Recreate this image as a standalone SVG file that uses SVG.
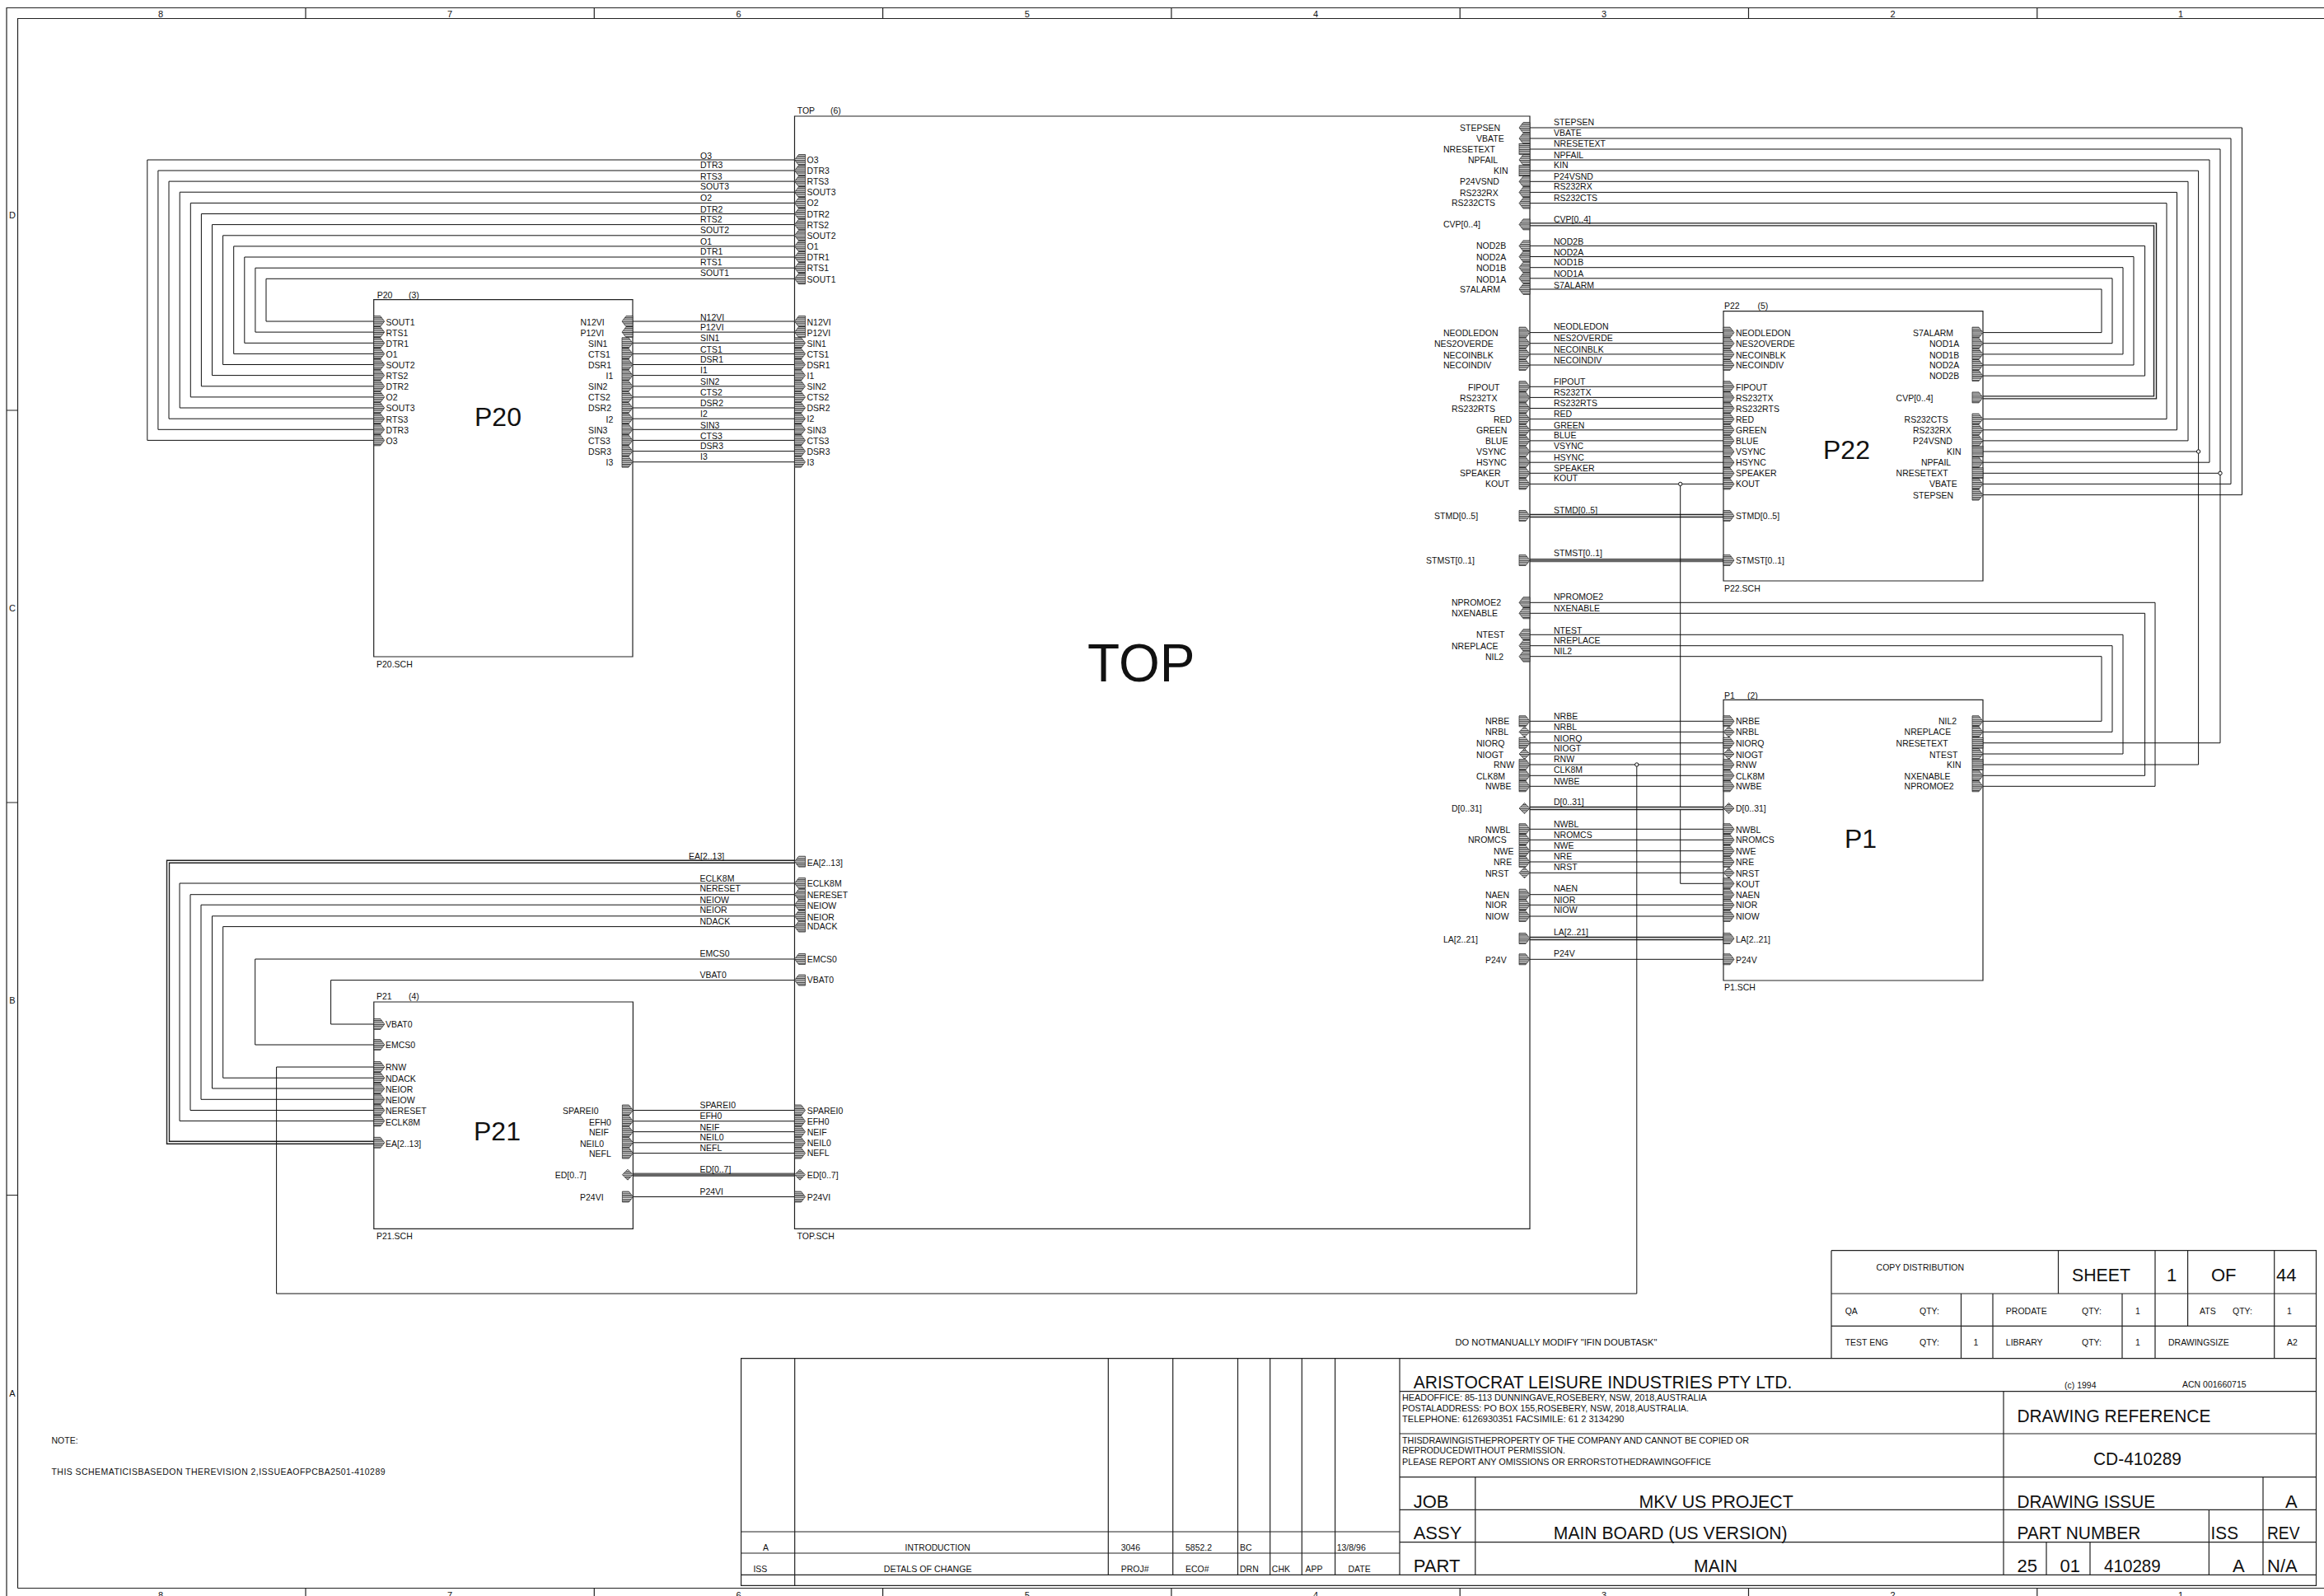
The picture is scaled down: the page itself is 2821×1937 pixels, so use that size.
<svg xmlns="http://www.w3.org/2000/svg" width="2821" height="1937" viewBox="0 0 2821 1937">
<style>
text{font-family:"Liberation Sans",Arial,sans-serif;fill:#111}
.t{font-size:10.5px}
.big{font-size:22px}
.title{font-size:32px}
.w{fill:none;stroke:#111;stroke-width:1}
.bus{fill:none;stroke:#222;stroke-width:4.4}
.busi{fill:none;stroke:#fff;stroke-width:1.6}
.busg{fill:none;stroke:#666;stroke-width:4.4}
.box{fill:none;stroke:#222;stroke-width:1.2}
.l{fill:none;stroke:#222;stroke-width:1.2}
.pin{fill:url(#hatch);stroke:#222;stroke-width:.7}
.j{fill:#fff;stroke:#111;stroke-width:1}
</style>
<defs>
<pattern id="hatch" width="4" height="2.4" patternUnits="userSpaceOnUse"><rect width="4" height="2.4" fill="#e4e4e4"/><rect width="4" height="1.2" fill="#3c3c3c"/></pattern>
<polygon id="pr" class="pin" points="0,-6.5 8,-6.5 13,0 8,6.5 0,6.5"/>
<polygon id="pl" class="pin" points="0,0 5,-6.5 13,-6.5 13,6.5 5,6.5"/>
<polygon id="pb" class="pin" points="0,0 6.5,-6.5 13,0 6.5,6.5"/>
<rect id="pp" class="pin" x="0" y="-6.5" width="13" height="13"/>
</defs>
<rect width="2821" height="1937" fill="#fff"/>

<g id="frame" class="t">
<path class="l" d="M8 1937V9.5H2821M21.5 1927.5V22.5H2821M21.5 1927.5H2821"/>
<path class="l" d="M371 9.5V22.5M721.3 9.5V22.5M1071.6 9.5V22.5M1421.9 9.5V22.5M1772.2 9.5V22.5M2122.5 9.5V22.5M2472.8 9.5V22.5M371 1927.5V1937M721.3 1927.5V1937M1071.6 1927.5V1937M1421.9 1927.5V1937M1772.2 1927.5V1937M2122.5 1927.5V1937M2472.8 1927.5V1937M8 498H21.5M8 974H21.5M8 1450.5H21.5"/>
<g text-anchor="middle" font-size="11">
<text x="195" y="21">8</text><text x="546" y="21">7</text><text x="896.5" y="21">6</text><text x="1246.8" y="21">5</text><text x="1597" y="21">4</text><text x="1947" y="21">3</text><text x="2297.6" y="21">2</text><text x="2647" y="21">1</text>
<text x="195" y="1940">8</text><text x="546" y="1940">7</text><text x="896.5" y="1940">6</text><text x="1246.8" y="1940">5</text><text x="1597" y="1940">4</text><text x="1947" y="1940">3</text><text x="2297.6" y="1940">2</text><text x="2647" y="1940">1</text>
<text x="15" y="265">D</text><text x="15" y="741.5">C</text><text x="15" y="1218">B</text><text x="15" y="1695">A</text>
</g>
</g>

<g id="connectors">
<path class="w" d="M965 194H178.8V534.4H453.7M965 207H191.9V521.3H453.7M965 220.1H205V508.2H453.7M965 233.2H218.2V495H453.7M965 246.4H231.3V481.9H453.7M965 259.5H244.4V468.8H453.7M965 272.6H257.5V455.6H453.7M965 285.8H270.6V442.5H453.7M965 298.9H283.7V429.4H453.7M965 312H296.8V416.3H453.7M965 325.2H309.9V403.1H453.7M965 338.3H323V390H453.7"/>
<path class="w" d="M768 390H965M768 403.1H965M768 416.3H965M768 429.4H965M768 442.5H965M768 455.6H965M768 468.8H965M768 481.9H965M768 495H965M768 508.2H965M768 521.3H965M768 534.4H965M768 547.6H965M768 560.7H965"/>
<path class="w" d="M965 1072H218V1360.4H453.8M965 1085.7H231V1347.5H453.8M965 1098.2H244V1334.3H453.8M965 1111.8H257.5V1321H453.8M965 1124.6H270.7V1308.2H453.8M965 1164H309.7V1268H453.8M965 1189.6H401.6V1243H453.8"/>
<path class="bus" d="M965 1045.7H204V1386.8H453.8"/><path class="busi" d="M965 1045.7H204V1386.8H453.8"/>
<path class="w" d="M768.4 1347.5H965M768.4 1360.7H965M768.4 1373.6H965M768.4 1386.8H965M768.4 1399.6H965M768.4 1452.5H965"/>
<path class="busg" d="M768.4 1425.7H965"/>
<path class="w" d="M1857 351H2551V403.6H2407M1857 337.8H2564V416.7H2407M1857 324.7H2577V429.9H2407M1857 311.5H2590V443H2407M1857 298.4H2603.6V456.1H2407M1857 246.6H2630V508.6H2407M1857 233.4H2642.5V521.8H2407M1857 220.3H2656V534.9H2407M1857 207.2H2668.6V928H2407M2668.6 548H2407M1857 194H2682V561.2H2407M1857 181H2695V901.7H2407M2695 574.3H2407M1857 168H2708V587.4H2407M1857 155H2721.5V600.6H2407"/>
<path class="bus" d="M1857 272.4H2616V482.4H2407"/><path class="busi" d="M1857 272.4H2616V482.4H2407"/>
<path class="w" d="M1857 403.6H2092M1857 416.7H2092M1857 429.9H2092M1857 443H2092M1857 469.3H2092M1857 482.4H2092M1857 495.5H2092M1857 508.6H2092M1857 521.8H2092M1857 534.9H2092M1857 548H2092M1857 561.2H2092M1857 574.3H2092M1857 587.4H2092"/>
<path class="bus" d="M1857 626H2092"/><path class="busi" d="M1857 626H2092"/><path class="busg" d="M1857 680H2092"/>
<path class="w" d="M2039.7 587.4V1072.3H2092"/>
<path class="w" d="M1857 731.3H2616V954.3H2407M1857 744.3H2603.6V941.3H2407M1857 770.3H2577V915H2407M1857 783.7H2564V888.3H2407M1857 796.7H2551V875.3H2407"/>
<path class="w" d="M1857 875.3H2092M1857 888.3H2092M1857 901.7H2092M1857 915H2092M1857 928H2092M1857 941.3H2092M1857 954.3H2092M1857 1006.3H2092M1857 1019.3H2092M1857 1032.7H2092M1857 1046H2092M1857 1059.3H2092M1857 1085.7H2092M1857 1098.3H2092M1857 1112H2092M1857 1164.3H2092"/>
<path class="bus" d="M1857 981H2092M1857 1139H2092"/><path class="busi" d="M1857 981H2092M1857 1139H2092"/>
<path class="w" d="M1986.8 928V1570H335.6V1295H453.8"/>
<circle class="j" cx="2668.6" cy="548" r="2.2"/><circle class="j" cx="2695" cy="574.3" r="2.2"/><circle class="j" cx="2039.7" cy="587.4" r="2.2"/><circle class="j" cx="1986.8" cy="928" r="2.2"/>
</g>

<g id="wire-labels" class="t">
<text x="850" y="192.6">O3</text><text x="850" y="204.4">DTR3</text><text x="850" y="217.9">RTS3</text><text x="850" y="230">SOUT3</text><text x="850" y="244.4">O2</text><text x="850" y="257.5">DTR2</text><text x="850" y="270">RTS2</text><text x="850" y="283">SOUT2</text><text x="850" y="296.7">O1</text><text x="850" y="309">DTR1</text><text x="850" y="322.4">RTS1</text><text x="850" y="335.4">SOUT1</text>
<text x="850" y="388.5">N12VI</text><text x="850" y="400.7">P12VI</text><text x="850" y="414">SIN1</text><text x="850" y="427.7">CTS1</text><text x="850" y="440.3">DSR1</text><text x="850" y="453.4">I1</text><text x="850" y="467.3">SIN2</text><text x="850" y="479.5">CTS2</text><text x="850" y="493">DSR2</text><text x="850" y="506">I2</text><text x="850" y="520.3">SIN3</text><text x="850" y="532.6">CTS3</text><text x="850" y="545">DSR3</text><text x="850" y="558.3">I3</text>
<text x="836" y="1043">EA[2..13]</text><text x="849.4" y="1070">ECLK8M</text><text x="849.4" y="1082">NERESET</text><text x="849.4" y="1096">NEIOW</text><text x="849.4" y="1108">NEIOR</text><text x="849.4" y="1122">NDACK</text><text x="849.4" y="1161">EMCS0</text><text x="849.4" y="1187">VBAT0</text><text x="849.4" y="1345">SPAREI0</text><text x="849.4" y="1358">EFH0</text><text x="849.4" y="1372">NEIF</text><text x="849.4" y="1384">NEIL0</text><text x="849.4" y="1397">NEFL</text><text x="849.4" y="1423">ED[0..7]</text><text x="849.4" y="1450">P24VI</text>
<text x="1886" y="152">STEPSEN</text><text x="1886" y="165">VBATE</text><text x="1886" y="178">NRESETEXT</text><text x="1886" y="192">NPFAIL</text><text x="1886" y="204">KIN</text><text x="1886" y="218">P24VSND</text><text x="1886" y="230">RS232RX</text><text x="1886" y="244">RS232CTS</text><text x="1886" y="270">CVP[0..4]</text><text x="1886" y="296.6">NOD2B</text><text x="1886" y="309.7">NOD2A</text><text x="1886" y="322.3">NOD1B</text><text x="1886" y="335.7">NOD1A</text><text x="1886" y="349.5">S7ALARM</text>
<text x="1886" y="400.4">NEODLEDON</text><text x="1886" y="414">NES2OVERDE</text><text x="1886" y="427.5">NECOINBLK</text><text x="1886" y="440.5">NECOINDIV</text><text x="1886" y="467.3">FIPOUT</text><text x="1886" y="479.6">RS232TX</text><text x="1886" y="493.4">RS232RTS</text><text x="1886" y="506.4">RED</text><text x="1886" y="520">GREEN</text><text x="1886" y="532.4">BLUE</text><text x="1886" y="545.4">VSYNC</text><text x="1886" y="558.8">HSYNC</text><text x="1886" y="572">SPEAKER</text><text x="1886" y="584.4">KOUT</text><text x="1886" y="622.7">STMD[0..5]</text><text x="1886" y="675">STMST[0..1]</text>
<text x="1886" y="728.3">NPROMOE2</text><text x="1886" y="742.3">NXENABLE</text><text x="1886" y="769.3">NTEST</text><text x="1886" y="781.3">NREPLACE</text><text x="1886" y="794.3">NIL2</text><text x="1886" y="873.3">NRBE</text><text x="1886" y="886.3">NRBL</text><text x="1886" y="900">NIORQ</text><text x="1886" y="912.3">NIOGT</text><text x="1886" y="925.3">RNW</text><text x="1886" y="938.3">CLK8M</text><text x="1886" y="952.3">NWBE</text><text x="1886" y="977.3">D[0..31]</text><text x="1886" y="1004.3">NWBL</text><text x="1886" y="1017.3">NROMCS</text><text x="1886" y="1030.3">NWE</text><text x="1886" y="1043.3">NRE</text><text x="1886" y="1056.3">NRST</text><text x="1886" y="1082.3">NAEN</text><text x="1886" y="1096">NIOR</text><text x="1886" y="1108.3">NIOW</text><text x="1886" y="1135.3">LA[2..21]</text><text x="1886" y="1161.3">P24V</text>
</g>

<g id="node-top" class="t">
<path class="box" d="M964.5 141H1857V1491.4H964.5Z"/>
<text x="967.7" y="138">TOP</text><text x="1008" y="138">(6)</text>
<text x="1320" y="827" style="font-size:64px">TOP</text>
<text x="967.6" y="1504">TOP.SCH</text>
<use href="#pl" x="964.5" y="194"/><use href="#pl" x="964.5" y="207"/><use href="#pl" x="964.5" y="220.1"/><use href="#pl" x="964.5" y="233.2"/><use href="#pl" x="964.5" y="246.4"/><use href="#pl" x="964.5" y="259.5"/><use href="#pl" x="964.5" y="272.6"/><use href="#pl" x="964.5" y="285.8"/><use href="#pl" x="964.5" y="298.9"/><use href="#pl" x="964.5" y="312"/><use href="#pl" x="964.5" y="325.2"/><use href="#pl" x="964.5" y="338.3"/>
<use href="#pl" x="964.5" y="390"/><use href="#pl" x="964.5" y="403.1"/><use href="#pr" x="964.5" y="416.3"/><use href="#pr" x="964.5" y="429.4"/><use href="#pr" x="964.5" y="442.5"/><use href="#pr" x="964.5" y="455.6"/><use href="#pr" x="964.5" y="468.8"/><use href="#pr" x="964.5" y="481.9"/><use href="#pr" x="964.5" y="495"/><use href="#pr" x="964.5" y="508.2"/><use href="#pr" x="964.5" y="521.3"/><use href="#pr" x="964.5" y="534.4"/><use href="#pr" x="964.5" y="547.6"/><use href="#pr" x="964.5" y="560.7"/>
<text x="979.5" y="198">O3</text><text x="979.5" y="211">DTR3</text><text x="979.5" y="224">RTS3</text><text x="979.5" y="237">SOUT3</text><text x="979.5" y="250">O2</text><text x="979.5" y="264">DTR2</text><text x="979.5" y="276.6">RTS2</text><text x="979.5" y="290">SOUT2</text><text x="979.5" y="303">O1</text><text x="979.5" y="316">DTR1</text><text x="979.5" y="329">RTS1</text><text x="979.5" y="343">SOUT1</text>
<text x="979.5" y="395">N12VI</text><text x="979.5" y="408">P12VI</text><text x="979.5" y="420.5">SIN1</text><text x="979.5" y="434">CTS1</text><text x="979.5" y="447">DSR1</text><text x="979.5" y="460">I1</text><text x="979.5" y="473">SIN2</text><text x="979.5" y="486">CTS2</text><text x="979.5" y="499">DSR2</text><text x="979.5" y="512">I2</text><text x="979.5" y="525.5">SIN3</text><text x="979.5" y="539">CTS3</text><text x="979.5" y="552">DSR3</text><text x="979.5" y="565">I3</text>
<use href="#pl" x="964.5" y="1045.7"/><use href="#pl" x="964.5" y="1072"/><use href="#pl" x="964.5" y="1085.7"/><use href="#pl" x="964.5" y="1098.2"/><use href="#pl" x="964.5" y="1111.8"/><use href="#pl" x="964.5" y="1124.6"/><use href="#pl" x="964.5" y="1164"/><use href="#pl" x="964.5" y="1189.6"/>
<use href="#pr" x="964.5" y="1347.5"/><use href="#pr" x="964.5" y="1360.7"/><use href="#pr" x="964.5" y="1373.6"/><use href="#pr" x="964.5" y="1386.8"/><use href="#pr" x="964.5" y="1399.6"/><use href="#pb" x="964.5" y="1425.7"/><use href="#pr" x="964.5" y="1452.5"/>
<text x="979.7" y="1050.7">EA[2..13]</text><text x="979.7" y="1076">ECLK8M</text><text x="979.7" y="1090.4">NERESET</text><text x="979.7" y="1102.6">NEIOW</text><text x="979.7" y="1116.5">NEIOR</text><text x="979.7" y="1128.3">NDACK</text><text x="979.7" y="1168">EMCS0</text><text x="979.7" y="1193">VBAT0</text><text x="979.7" y="1351.5">SPAREI0</text><text x="979.7" y="1365">EFH0</text><text x="979.7" y="1378">NEIF</text><text x="979.7" y="1391">NEIL0</text><text x="979.7" y="1403">NEFL</text><text x="979.7" y="1429.7">ED[0..7]</text><text x="979.7" y="1456.5">P24VI</text>
<use href="#pl" x="1844" y="155"/><use href="#pl" x="1844" y="168"/><use href="#pp" x="1844" y="181"/><use href="#pl" x="1844" y="194"/><use href="#pp" x="1844" y="207.2"/><use href="#pl" x="1844" y="220.3"/><use href="#pl" x="1844" y="233.4"/><use href="#pl" x="1844" y="246.6"/><use href="#pl" x="1844" y="272.4"/><use href="#pl" x="1844" y="298.4"/><use href="#pl" x="1844" y="311.5"/><use href="#pl" x="1844" y="324.7"/><use href="#pl" x="1844" y="337.8"/><use href="#pl" x="1844" y="351"/>
<text x="1772" y="159">STEPSEN</text><text x="1792" y="171.5">VBATE</text><text x="1752" y="185">NRESETEXT</text><text x="1782" y="198">NPFAIL</text><text x="1813" y="211">KIN</text><text x="1772" y="224">P24VSND</text><text x="1772" y="238">RS232RX</text><text x="1762" y="250">RS232CTS</text><text x="1752" y="276.4">CVP[0..4]</text><text x="1792" y="302.4">NOD2B</text><text x="1792" y="315.5">NOD2A</text><text x="1792" y="329">NOD1B</text><text x="1792" y="343">NOD1A</text><text x="1772" y="355">S7ALARM</text>
<use href="#pr" x="1844" y="403.6"/><use href="#pr" x="1844" y="416.7"/><use href="#pr" x="1844" y="429.9"/><use href="#pr" x="1844" y="443"/><use href="#pr" x="1844" y="469.3"/><use href="#pr" x="1844" y="482.4"/><use href="#pr" x="1844" y="495.5"/><use href="#pr" x="1844" y="508.6"/><use href="#pr" x="1844" y="521.8"/><use href="#pr" x="1844" y="534.9"/><use href="#pr" x="1844" y="548"/><use href="#pr" x="1844" y="561.2"/><use href="#pr" x="1844" y="574.3"/><use href="#pr" x="1844" y="587.4"/><use href="#pr" x="1844" y="626"/><use href="#pr" x="1844" y="680"/>
<text x="1752" y="408">NEODLEDON</text><text x="1741" y="420.5">NES2OVERDE</text><text x="1752" y="434.5">NECOINBLK</text><text x="1752" y="447">NECOINDIV</text><text x="1782" y="473.5">FIPOUT</text><text x="1772" y="486.5">RS232TX</text><text x="1762" y="500">RS232RTS</text><text x="1813" y="513">RED</text><text x="1792" y="525.5">GREEN</text><text x="1803" y="539">BLUE</text><text x="1792" y="551.5">VSYNC</text><text x="1792" y="565">HSYNC</text><text x="1772" y="578">SPEAKER</text><text x="1803" y="591">KOUT</text><text x="1741" y="630">STMD[0..5]</text><text x="1731" y="684">STMST[0..1]</text>
<use href="#pl" x="1844" y="731.3"/><use href="#pl" x="1844" y="744.3"/><use href="#pl" x="1844" y="770.3"/><use href="#pl" x="1844" y="783.7"/><use href="#pl" x="1844" y="796.7"/>
<text x="1762" y="735.3">NPROMOE2</text><text x="1762" y="748.3">NXENABLE</text><text x="1792" y="774.3">NTEST</text><text x="1762" y="788">NREPLACE</text><text x="1803" y="801">NIL2</text>
<use href="#pr" x="1844" y="875.3"/><use href="#pb" x="1844" y="888.3"/><use href="#pr" x="1844" y="901.7"/><use href="#pb" x="1844" y="915"/><use href="#pr" x="1844" y="928"/><use href="#pr" x="1844" y="941.3"/><use href="#pr" x="1844" y="954.3"/><use href="#pb" x="1844" y="981"/><use href="#pr" x="1844" y="1006.3"/><use href="#pr" x="1844" y="1019.3"/><use href="#pr" x="1844" y="1032.7"/><use href="#pr" x="1844" y="1046"/><use href="#pb" x="1844" y="1059.3"/><use href="#pr" x="1844" y="1085.7"/><use href="#pr" x="1844" y="1098.3"/><use href="#pr" x="1844" y="1112"/><use href="#pr" x="1844" y="1139"/><use href="#pr" x="1844" y="1164.3"/>
<text x="1803" y="879.3">NRBE</text><text x="1803" y="892.3">NRBL</text><text x="1792" y="906">NIORQ</text><text x="1792" y="920">NIOGT</text><text x="1813" y="932">RNW</text><text x="1792" y="946">CLK8M</text><text x="1803" y="958.3">NWBE</text><text x="1762" y="985">D[0..31]</text><text x="1803" y="1011">NWBL</text><text x="1782" y="1023">NROMCS</text><text x="1813" y="1037">NWE</text><text x="1813" y="1050">NRE</text><text x="1803" y="1063.5">NRST</text><text x="1803" y="1090">NAEN</text><text x="1803" y="1102">NIOR</text><text x="1803" y="1116">NIOW</text><text x="1752" y="1144">LA[2..21]</text><text x="1803" y="1168.5">P24V</text>
</g>

<g id="node-p20" class="t">
<path class="box" d="M453.7 363.7H768V797H453.7Z"/>
<text x="457.7" y="362">P20</text><text x="496" y="362">(3)</text><text x="457" y="810">P20.SCH</text>
<text class="title" x="576" y="517">P20</text>
<use href="#pr" x="453.7" y="390"/><use href="#pr" x="453.7" y="403.1"/><use href="#pr" x="453.7" y="416.3"/><use href="#pr" x="453.7" y="429.4"/><use href="#pr" x="453.7" y="442.5"/><use href="#pr" x="453.7" y="455.6"/><use href="#pr" x="453.7" y="468.8"/><use href="#pr" x="453.7" y="481.9"/><use href="#pr" x="453.7" y="495"/><use href="#pr" x="453.7" y="508.2"/><use href="#pr" x="453.7" y="521.3"/><use href="#pr" x="453.7" y="534.4"/>
<text x="468.6" y="395">SOUT1</text><text x="468.6" y="408">RTS1</text><text x="468.6" y="420.5">DTR1</text><text x="468.6" y="434">O1</text><text x="468.6" y="447">SOUT2</text><text x="468.6" y="460">RTS2</text><text x="468.6" y="473">DTR2</text><text x="468.6" y="486">O2</text><text x="468.6" y="499">SOUT3</text><text x="468.6" y="513">RTS3</text><text x="468.6" y="525.5">DTR3</text><text x="468.6" y="539">O3</text>
<use href="#pl" x="755" y="390"/><use href="#pl" x="755" y="403.1"/><use href="#pr" x="755" y="416.3"/><use href="#pr" x="755" y="429.4"/><use href="#pr" x="755" y="442.5"/><use href="#pr" x="755" y="455.6"/><use href="#pr" x="755" y="468.8"/><use href="#pr" x="755" y="481.9"/><use href="#pr" x="755" y="495"/><use href="#pr" x="755" y="508.2"/><use href="#pr" x="755" y="521.3"/><use href="#pr" x="755" y="534.4"/><use href="#pr" x="755" y="547.6"/><use href="#pr" x="755" y="560.7"/>
<text x="704.5" y="395">N12VI</text><text x="704.5" y="408">P12VI</text><text x="714" y="420.5">SIN1</text><text x="714" y="434">CTS1</text><text x="714" y="447">DSR1</text><text x="735.5" y="460">I1</text><text x="714" y="473">SIN2</text><text x="714" y="486">CTS2</text><text x="714" y="499">DSR2</text><text x="735.5" y="513">I2</text><text x="714" y="525.5">SIN3</text><text x="714" y="539">CTS3</text><text x="714" y="552">DSR3</text><text x="735.5" y="565">I3</text>
</g>

<g id="node-p21" class="t">
<path class="box" d="M453.8 1216H768.4V1491.4H453.8Z"/>
<text x="457" y="1213">P21</text><text x="496" y="1213">(4)</text><text x="457" y="1504">P21.SCH</text>
<text class="title" x="575" y="1384">P21</text>
<use href="#pr" x="453.8" y="1243"/><use href="#pr" x="453.8" y="1268"/><use href="#pr" x="453.8" y="1295"/><use href="#pr" x="453.8" y="1308.2"/><use href="#pr" x="453.8" y="1321"/><use href="#pr" x="453.8" y="1334.3"/><use href="#pr" x="453.8" y="1347.5"/><use href="#pr" x="453.8" y="1360.4"/><use href="#pr" x="453.8" y="1386.8"/>
<text x="468" y="1247">VBAT0</text><text x="468" y="1272">EMCS0</text><text x="468" y="1299">RNW</text><text x="468" y="1312.5">NDACK</text><text x="468" y="1325.5">NEIOR</text><text x="468" y="1338.5">NEIOW</text><text x="468" y="1351.5">NERESET</text><text x="468" y="1365.5">ECLK8M</text><text x="468" y="1392">EA[2..13]</text>
<use href="#pr" x="755.4" y="1347.5"/><use href="#pr" x="755.4" y="1360.7"/><use href="#pr" x="755.4" y="1373.6"/><use href="#pr" x="755.4" y="1386.8"/><use href="#pr" x="755.4" y="1399.6"/><use href="#pb" x="755.4" y="1425.7"/><use href="#pr" x="755.4" y="1452.5"/>
<text x="683" y="1351.5">SPAREI0</text><text x="715" y="1365.5">EFH0</text><text x="715" y="1378">NEIF</text><text x="704" y="1392">NEIL0</text><text x="715" y="1403.5">NEFL</text><text x="673.7" y="1429.7">ED[0..7]</text><text x="704" y="1456.5">P24VI</text>
</g>

<g id="node-p22" class="t">
<path class="box" d="M2092 377.6H2407V705H2092Z"/>
<text x="2093" y="375">P22</text><text x="2133.5" y="375">(5)</text><text x="2093" y="717.5">P22.SCH</text>
<text class="title" x="2213" y="557">P22</text>
<use href="#pr" x="2092" y="403.6"/><use href="#pr" x="2092" y="416.7"/><use href="#pr" x="2092" y="429.9"/><use href="#pr" x="2092" y="443"/><use href="#pr" x="2092" y="469.3"/><use href="#pr" x="2092" y="482.4"/><use href="#pr" x="2092" y="495.5"/><use href="#pr" x="2092" y="508.6"/><use href="#pr" x="2092" y="521.8"/><use href="#pr" x="2092" y="534.9"/><use href="#pr" x="2092" y="548"/><use href="#pr" x="2092" y="561.2"/><use href="#pr" x="2092" y="574.3"/><use href="#pr" x="2092" y="587.4"/><use href="#pr" x="2092" y="626"/><use href="#pr" x="2092" y="680"/>
<text x="2107" y="408">NEODLEDON</text><text x="2107" y="420.5">NES2OVERDE</text><text x="2107" y="434.5">NECOINBLK</text><text x="2107" y="447">NECOINDIV</text><text x="2107" y="473.5">FIPOUT</text><text x="2107" y="486.5">RS232TX</text><text x="2107" y="500">RS232RTS</text><text x="2107" y="513">RED</text><text x="2107" y="525.5">GREEN</text><text x="2107" y="539">BLUE</text><text x="2107" y="551.5">VSYNC</text><text x="2107" y="565">HSYNC</text><text x="2107" y="578">SPEAKER</text><text x="2107" y="591">KOUT</text><text x="2107" y="630">STMD[0..5]</text><text x="2107" y="684">STMST[0..1]</text>
<use href="#pr" x="2394" y="403.6"/><use href="#pr" x="2394" y="416.7"/><use href="#pr" x="2394" y="429.9"/><use href="#pr" x="2394" y="443"/><use href="#pr" x="2394" y="456.1"/><use href="#pr" x="2394" y="482.4"/><use href="#pr" x="2394" y="508.6"/><use href="#pr" x="2394" y="521.8"/><use href="#pr" x="2394" y="534.9"/><use href="#pp" x="2394" y="548"/><use href="#pr" x="2394" y="561.2"/><use href="#pp" x="2394" y="574.3"/><use href="#pr" x="2394" y="587.4"/><use href="#pr" x="2394" y="600.6"/>
<text x="2322" y="408">S7ALARM</text><text x="2342" y="420.5">NOD1A</text><text x="2342" y="434.5">NOD1B</text><text x="2342" y="447">NOD2A</text><text x="2342" y="460">NOD2B</text><text x="2301.6" y="486.5">CVP[0..4]</text><text x="2311.6" y="513">RS232CTS</text><text x="2322" y="525.5">RS232RX</text><text x="2322" y="539">P24VSND</text><text x="2363" y="552">KIN</text><text x="2332" y="565">NPFAIL</text><text x="2301.6" y="578">NRESETEXT</text><text x="2342" y="591">VBATE</text><text x="2322" y="604.5">STEPSEN</text>
</g>

<g id="node-p1" class="t">
<path class="box" d="M2092 849.3H2407V1190H2092Z"/>
<text x="2093" y="847.5">P1</text><text x="2121" y="847.5">(2)</text><text x="2093" y="1202">P1.SCH</text>
<text class="title" x="2239" y="1029">P1</text>
<use href="#pr" x="2092" y="875.3"/><use href="#pb" x="2092" y="888.3"/><use href="#pr" x="2092" y="901.7"/><use href="#pb" x="2092" y="915"/><use href="#pr" x="2092" y="928"/><use href="#pr" x="2092" y="941.3"/><use href="#pr" x="2092" y="954.3"/><use href="#pb" x="2092" y="981"/><use href="#pr" x="2092" y="1006.3"/><use href="#pr" x="2092" y="1019.3"/><use href="#pr" x="2092" y="1032.7"/><use href="#pr" x="2092" y="1046"/><use href="#pb" x="2092" y="1059.3"/><use href="#pr" x="2092" y="1072.3"/><use href="#pr" x="2092" y="1085.7"/><use href="#pr" x="2092" y="1098.3"/><use href="#pr" x="2092" y="1112"/><use href="#pr" x="2092" y="1139"/><use href="#pr" x="2092" y="1164.3"/>
<text x="2107" y="879.3">NRBE</text><text x="2107" y="892.3">NRBL</text><text x="2107" y="906">NIORQ</text><text x="2107" y="920">NIOGT</text><text x="2107" y="932">RNW</text><text x="2107" y="946">CLK8M</text><text x="2107" y="958.3">NWBE</text><text x="2107" y="985">D[0..31]</text><text x="2107" y="1011">NWBL</text><text x="2107" y="1023">NROMCS</text><text x="2107" y="1037">NWE</text><text x="2107" y="1050">NRE</text><text x="2107" y="1063.5">NRST</text><text x="2107" y="1076.5">KOUT</text><text x="2107" y="1090">NAEN</text><text x="2107" y="1102">NIOR</text><text x="2107" y="1116">NIOW</text><text x="2107" y="1144">LA[2..21]</text><text x="2107" y="1168.5">P24V</text>
<use href="#pr" x="2394" y="875.3"/><use href="#pr" x="2394" y="888.3"/><use href="#pp" x="2394" y="901.7"/><use href="#pr" x="2394" y="915"/><use href="#pp" x="2394" y="928"/><use href="#pr" x="2394" y="941.3"/><use href="#pr" x="2394" y="954.3"/>
<text x="2353" y="879.3">NIL2</text><text x="2311.6" y="892.3">NREPLACE</text><text x="2301.6" y="906">NRESETEXT</text><text x="2342" y="920">NTEST</text><text x="2363" y="932">KIN</text><text x="2311.6" y="946">NXENABLE</text><text x="2311.6" y="958.3">NPROMOE2</text>
</g>

<g id="title-block" class="t">
<path class="l" d="M2223 1517.7H2811.5V1924.3H899.6V1648.7H2811.5M2223 1648.7V1517.7M2223 1570H2811.5M2223 1609.3H2811.5M2498.5 1517.7V1570M2616 1517.7V1648.7M2655.6 1517.7V1609.3M2760.7 1517.7V1648.7M2380.5 1570V1648.7M2419 1570V1648.7M2576 1570V1648.7"/>
<path class="l" d="M1699 1688.7H2811.5M1699 1740H2811.5M1699 1792.7H2811.5M1699 1832.3H2811.5M1699 1871.7H2811.5M899.6 1911.3H2811.5M899.6 1859H1699M899.6 1885H1699M964.7 1648.7V1924.3M1345.3 1648.7V1911.3M1423.7 1648.7V1911.3M1502.5 1648.7V1911.3M1541.7 1648.7V1911.3M1580.3 1648.7V1911.3M1620.6 1648.7V1911.3M1699 1648.7V1911.3M2432 1688.7V1911.3M1790.8 1792.7V1911.3M2747 1792.7V1911.3M2681.4 1832.3V1911.3M2484 1871.7V1911.3M2537 1871.7V1911.3"/>
<text x="2277.6" y="1542" textLength="106.5" lengthAdjust="spacingAndGlyphs">COPY DISTRIBUTION</text>
<text class="big" x="2515" y="1555" textLength="71" lengthAdjust="spacingAndGlyphs">SHEET</text><text class="big" x="2630" y="1555">1</text><text class="big" x="2684" y="1555">OF</text><text class="big" x="2763" y="1555">44</text>
<text x="2239.7" y="1594.5">QA</text><text x="2330" y="1594.5">QTY:</text><text x="2434.8" y="1594.5">PRODATE</text><text x="2527" y="1594.5">QTY:</text><text x="2592" y="1594.5">1</text><text x="2670" y="1594.5">ATS</text><text x="2710" y="1594.5">QTY:</text><text x="2776" y="1594.5">1</text>
<text x="2239.7" y="1633">TEST ENG</text><text x="2330" y="1633">QTY:</text><text x="2395.5" y="1633">1</text><text x="2434.8" y="1633">LIBRARY</text><text x="2527" y="1633">QTY:</text><text x="2592" y="1633">1</text><text x="2632" y="1633">DRAWINGSIZE</text><text x="2776" y="1633">A2</text>
<text x="1766.5" y="1633" textLength="245" lengthAdjust="spacingAndGlyphs">DO NOTMANUALLY MODIFY  "IFIN DOUBTASK"</text>
<text class="big" x="1715.7" y="1685" textLength="459.6" lengthAdjust="spacingAndGlyphs">ARISTOCRAT LEISURE INDUSTRIES PTY LTD.</text>
<text x="2506" y="1685">(c) 1994</text><text x="2649" y="1684">ACN 001660715</text>
<text x="1702" y="1699.5" textLength="369.7" lengthAdjust="spacingAndGlyphs">HEADOFFICE: 85-113 DUNNINGAVE,ROSEBERY, NSW, 2018,AUSTRALIA</text>
<text x="1702" y="1713" textLength="348" lengthAdjust="spacingAndGlyphs">POSTALADDRESS: PO BOX 155,ROSEBERY, NSW, 2018,AUSTRALIA.</text>
<text x="1702" y="1725.5" textLength="269.5" lengthAdjust="spacingAndGlyphs">TELEPHONE: 6126930351 FACSIMILE: 61 2 3134290</text>
<text x="1702" y="1752" textLength="421" lengthAdjust="spacingAndGlyphs">THISDRAWINGISTHEPROPERTY OF THE COMPANY AND CANNOT BE COPIED OR</text>
<text x="1702" y="1764" textLength="198" lengthAdjust="spacingAndGlyphs">REPRODUCEDWITHOUT PERMISSION.</text>
<text x="1702" y="1778" textLength="375" lengthAdjust="spacingAndGlyphs">PLEASE REPORT ANY OMISSIONS OR ERRORSTOTHEDRAWINGOFFICE</text>
<text class="big" x="2448.4" y="1726" textLength="235" lengthAdjust="spacingAndGlyphs">DRAWING REFERENCE</text>
<text class="big" x="2541" y="1778" textLength="107" lengthAdjust="spacingAndGlyphs">CD-410289</text>
<text class="big" x="1715.7" y="1830">JOB</text><text class="big" x="1989.5" y="1830" textLength="187.3" lengthAdjust="spacingAndGlyphs">MKV US PROJECT</text><text class="big" x="2448.4" y="1830" textLength="167.6" lengthAdjust="spacingAndGlyphs">DRAWING ISSUE</text><text class="big" x="2774" y="1830">A</text>
<text class="big" x="1715.7" y="1868">ASSY</text><text class="big" x="1885.8" y="1868" textLength="283.8" lengthAdjust="spacingAndGlyphs">MAIN BOARD (US VERSION)</text><text class="big" x="2448.4" y="1868" textLength="150" lengthAdjust="spacingAndGlyphs">PART NUMBER</text><text class="big" x="2683.6" y="1868" textLength="33.4" lengthAdjust="spacingAndGlyphs">ISS</text><text class="big" x="2752" y="1868" textLength="39.5" lengthAdjust="spacingAndGlyphs">REV</text>
<text class="big" x="1715.7" y="1908">PART</text><text class="big" x="2056" y="1908" textLength="53" lengthAdjust="spacingAndGlyphs">MAIN</text><text class="big" x="2448.4" y="1908">25</text><text class="big" x="2500.6" y="1908">01</text><text class="big" x="2554" y="1908" textLength="68.8" lengthAdjust="spacingAndGlyphs">410289</text><text class="big" x="2710" y="1908">A</text><text class="big" x="2752" y="1908">N/A</text>
<text x="926" y="1882">A</text><text x="1098.6" y="1882" textLength="79" lengthAdjust="spacingAndGlyphs">INTRODUCTION</text><text x="1360.7" y="1882">3046</text><text x="1439" y="1882">5852.2</text><text x="1505" y="1882">BC</text><text x="1622.7" y="1882">13/8/96</text>
<text x="914.4" y="1908">ISS</text><text x="1072.7" y="1908" textLength="107" lengthAdjust="spacingAndGlyphs">DETALS OF CHANGE</text><text x="1360.7" y="1908">PROJ#</text><text x="1439" y="1908">ECO#</text><text x="1505" y="1908">DRN</text><text x="1543.8" y="1908">CHK</text><text x="1584.6" y="1908">APP</text><text x="1636.5" y="1908">DATE</text>
</g>

<g id="notes" class="t">
<text x="62.5" y="1752">NOTE:</text>
<text x="62.5" y="1790" textLength="405" lengthAdjust="spacing">THIS SCHEMATICISBASEDON THEREVISION 2,ISSUEAOFPCBA2501-410289</text>
</g>
</svg>
